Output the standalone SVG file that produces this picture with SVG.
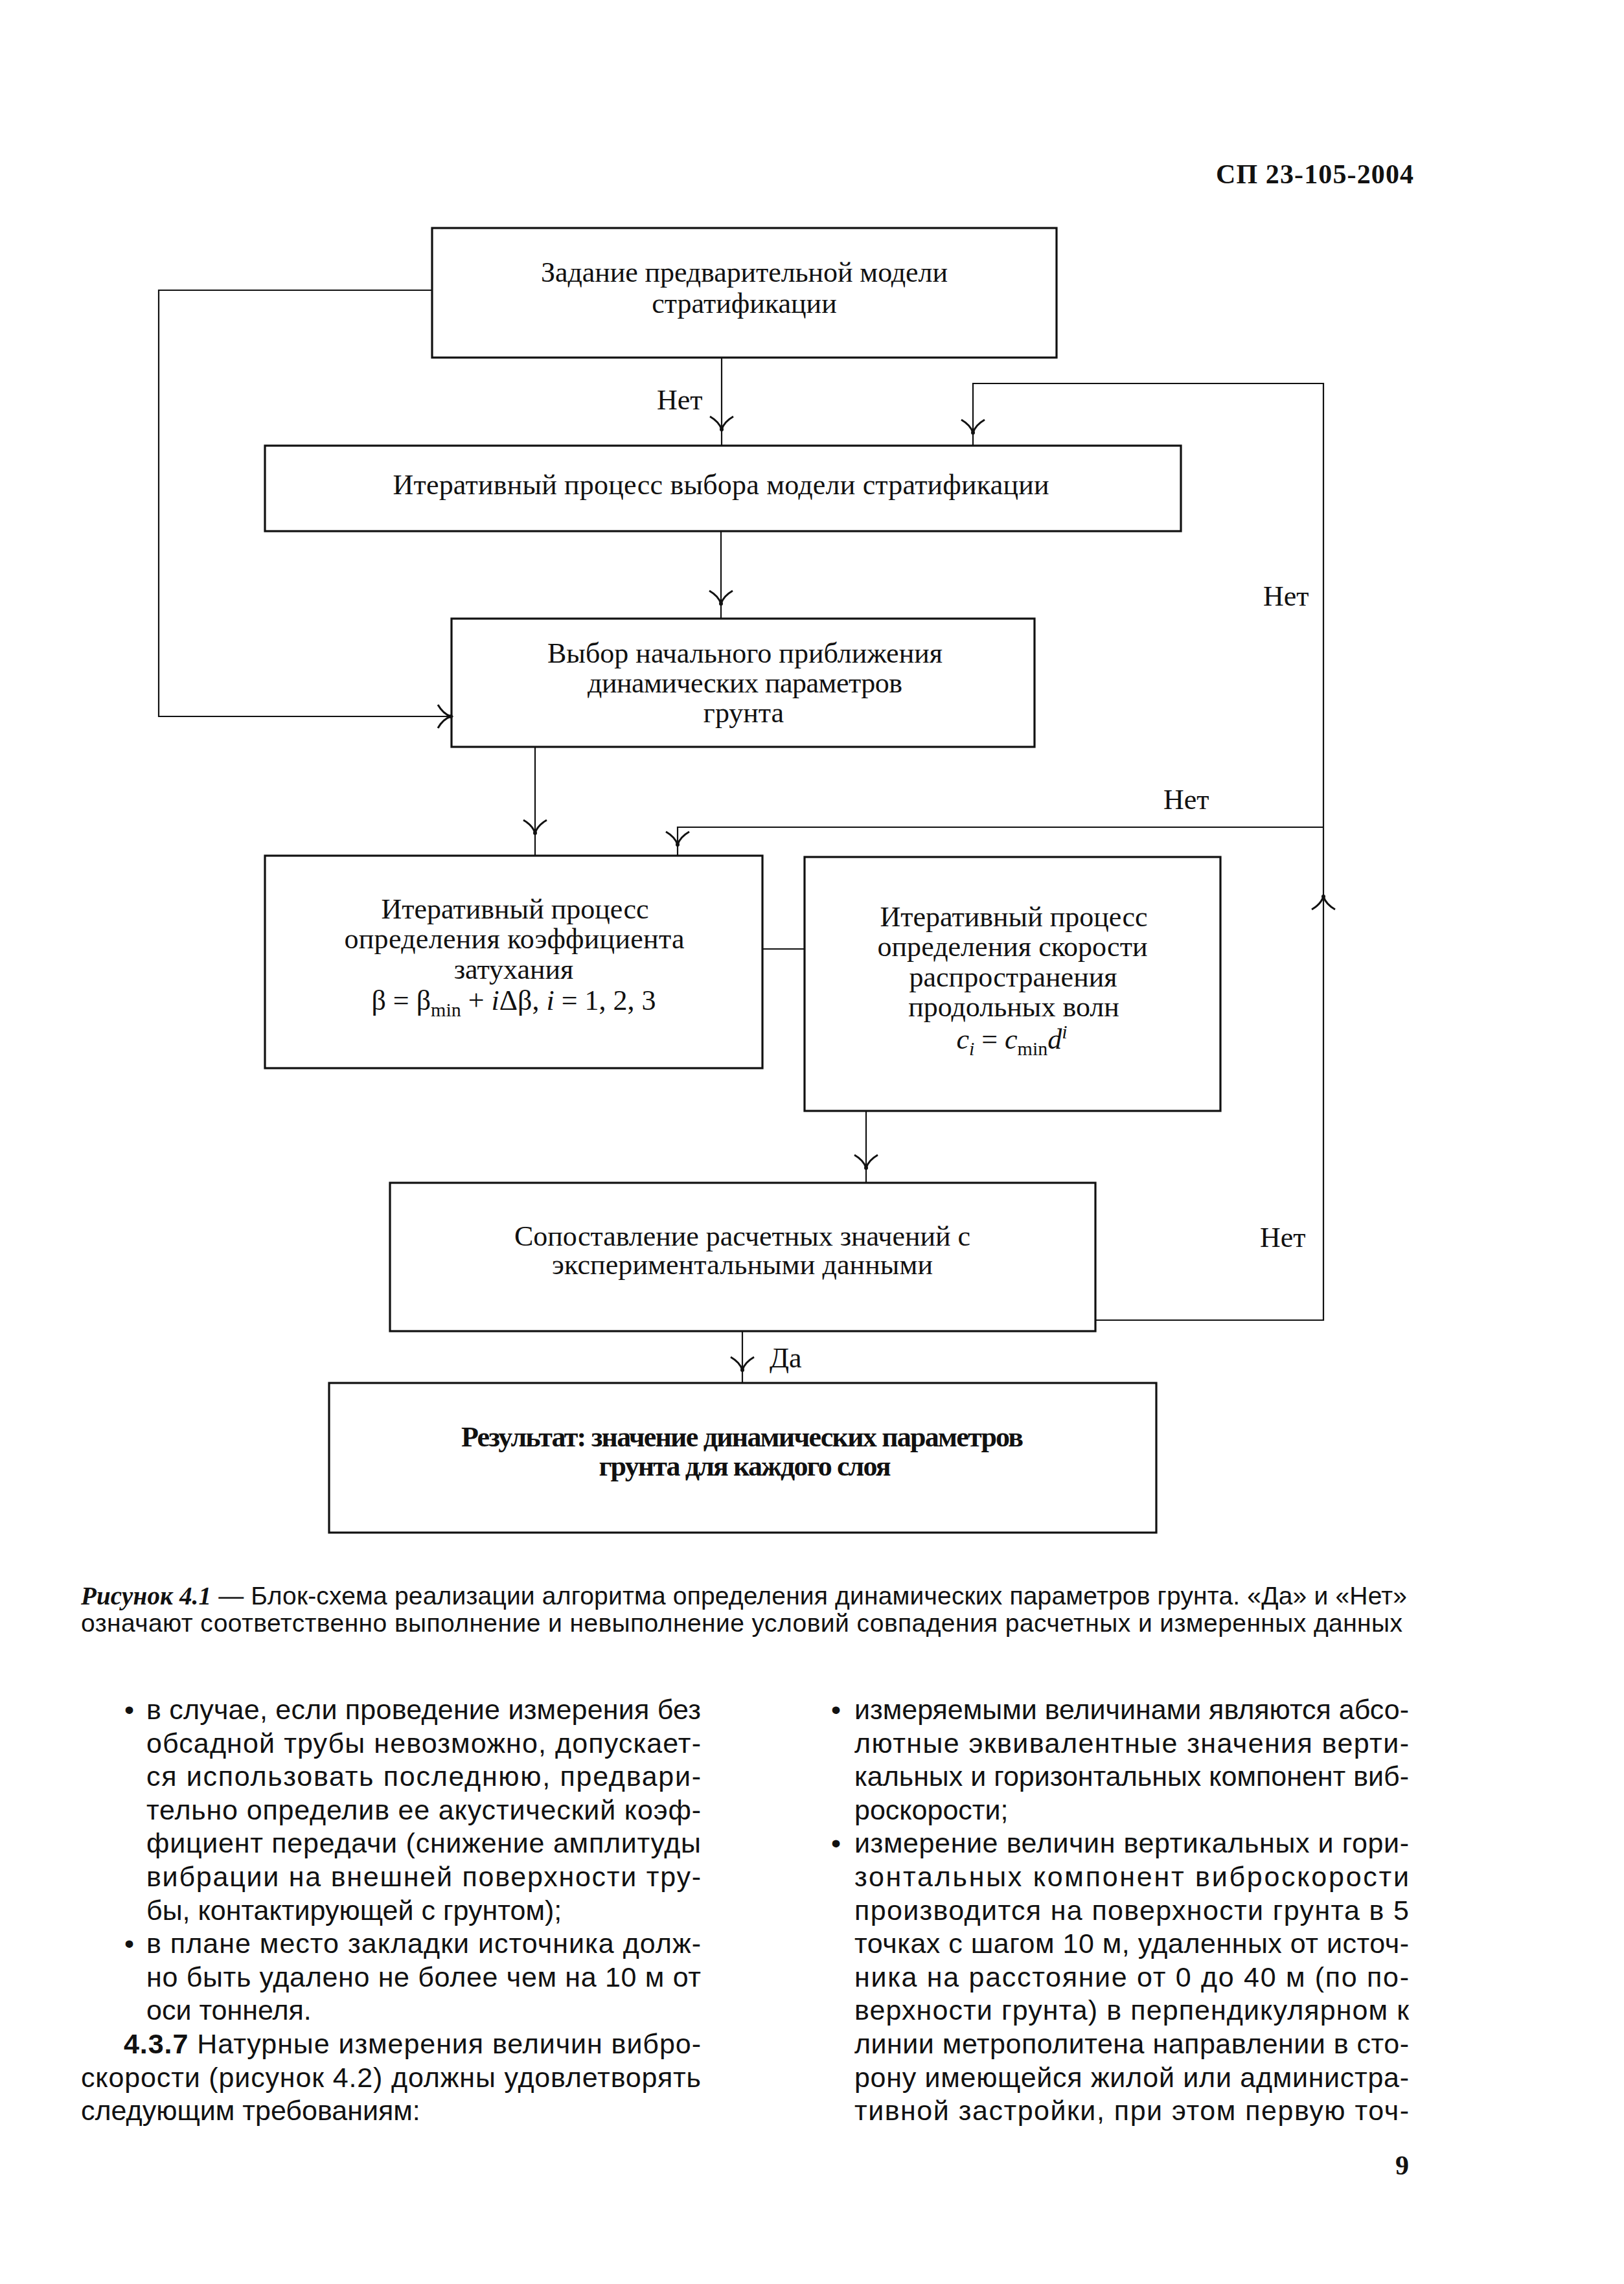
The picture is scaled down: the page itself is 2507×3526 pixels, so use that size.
<svg xmlns="http://www.w3.org/2000/svg" width="2507" height="3526" viewBox="0 0 2507 3526">
<style>
text{font-family:"Liberation Serif","Times New Roman",serif;fill:#111}
.bx{fill:none;stroke:#111;stroke-width:3.2}
.ln{fill:none;stroke:#111;stroke-width:2.2}
.ah{fill:none;stroke:#111;stroke-width:3}
.t{font-size:44px;text-anchor:middle}
.tb{font-size:44px;text-anchor:middle;font-weight:bold}
.lb{font-size:44px}
.body{font-family:"Liberation Sans",Arial,sans-serif;font-size:43px}
.cap{font-family:"Liberation Sans",Arial,sans-serif;font-size:39px}
.it{font-style:italic}
.sub{font-size:30px}
</style>
<defs>
<g id="ahd"><path class="ah" d="M-18,-20 Q-4,-12 0,0 Q4,-12 18,-20"/><circle r="3" fill="#111"/></g>
</defs>
<rect width="2507" height="3526" fill="#fff"/>

<text x="2182" y="283" font-size="42" font-weight="bold" text-anchor="end" textLength="305">СП 23-105-2004</text>

<g id="connectors">
<polyline class="ln" points="667,448 245,448 245,1106 697,1106"/>
<line class="ln" x1="1114" y1="552" x2="1114" y2="688"/>
<polyline class="ln" points="1502,688 1502,592 2043,592 2043,2038 1691,2038"/>
<line class="ln" x1="1113" y1="820" x2="1113" y2="955"/>
<line class="ln" x1="826" y1="1153" x2="826" y2="1321"/>
<polyline class="ln" points="2043,1277 1046,1277 1046,1321"/>
<line class="ln" x1="1177" y1="1465" x2="1242" y2="1465"/>
<line class="ln" x1="1337" y1="1715" x2="1337" y2="1826"/>
<line class="ln" x1="1146" y1="2055" x2="1146" y2="2135"/>
<use href="#ahd" transform="translate(1114,663)"/>
<use href="#ahd" transform="translate(1502,668)"/>
<use href="#ahd" transform="translate(1113,932)"/>
<use href="#ahd" transform="translate(826,1286)"/>
<use href="#ahd" transform="translate(1046,1304)"/>
<use href="#ahd" transform="translate(1337,1803)"/>
<use href="#ahd" transform="translate(1146,2115)"/>
<use href="#ahd" transform="translate(696,1106) rotate(-90)"/>
<use href="#ahd" transform="translate(2043,1384) rotate(180)"/>
<text class="lb" x="1014" y="632">Нет</text>
<text class="lb" x="1950" y="935">Нет</text>
<text class="lb" x="1796" y="1249">Нет</text>
<text class="lb" x="1945" y="1925">Нет</text>
<text class="lb" x="1188" y="2111">Да</text>
</g>

<g id="n1">
<rect class="bx" x="667" y="352" width="964" height="200"/>
<text class="t" x="1149" y="435" textLength="628">Задание предварительной модели</text>
<text class="t" x="1149" y="483">стратификации</text>
</g>
<g id="n2">
<rect class="bx" x="409" y="688" width="1414" height="132"/>
<text class="t" x="1113" y="763" textLength="1013">Итеративный процесс выбора модели стратификации</text>
</g>
<g id="n3">
<rect class="bx" x="697" y="955" width="900" height="198"/>
<text class="t" x="1150" y="1023" textLength="610">Выбор начального приближения</text>
<text class="t" x="1150" y="1069" textLength="486">динамических параметров</text>
<text class="t" x="1148" y="1115">грунта</text>
</g>
<g id="n4">
<rect class="bx" x="409" y="1321" width="768" height="328"/>
<text class="t" x="795" y="1418" textLength="413">Итеративный процесс</text>
<text class="t" x="794" y="1464" textLength="525">определения коэффициента</text>
<text class="t" x="793" y="1511">затухания</text>
<text class="t" x="793" y="1559">β = β<tspan class="sub" dy="10">min</tspan><tspan dy="-10"> + </tspan><tspan class="it">i</tspan>Δβ, <tspan class="it">i</tspan> = 1, 2, 3</text>
</g>
<g id="n5">
<rect class="bx" x="1242" y="1323" width="642" height="392"/>
<text class="t" x="1565" y="1430" textLength="413">Итеративный процесс</text>
<text class="t" x="1563" y="1476" textLength="417">определения скорости</text>
<text class="t" x="1564" y="1523">распространения</text>
<text class="t" x="1565" y="1569">продольных волн</text>
<text class="t" x="1562" y="1619"><tspan class="it">c</tspan><tspan class="sub it" dy="10">i</tspan><tspan dy="-10"> = </tspan><tspan class="it">c</tspan><tspan class="sub" dy="10">min</tspan><tspan class="it" dy="-10">d</tspan><tspan class="sub it" dy="-16">i</tspan></text>
</g>
<g id="n6">
<rect class="bx" x="602" y="1826" width="1089" height="229"/>
<text class="t" x="1146" y="1923" textLength="704">Сопоставление расчетных значений с</text>
<text class="t" x="1146" y="1967" textLength="588">экспериментальными данными</text>
</g>
<g id="n7">
<rect class="bx" x="508" y="2135" width="1277" height="231"/>
<text class="tb" x="1146" y="2233" textLength="868">Результат: значение динамических параметров</text>
<text class="tb" x="1150" y="2278" textLength="451">грунта для каждого слоя</text>
</g>

<g id="caption">
<text class="cap" x="125" y="2477" textLength="2047" lengthAdjust="spacing"><tspan font-family="Liberation Serif" font-weight="bold" font-style="italic">Рисунок 4.1</tspan> — Блок-схема реализации алгоритма определения динамических параметров грунта. «Да» и «Нет»</text>
<text class="cap" x="125" y="2519" textLength="2040" lengthAdjust="spacing">означают соответственно выполнение и невыполнение условий совпадения расчетных и измеренных данных</text>
</g>

<g id="body-left">
<text class="body" x="192" y="2654">•</text>
<text class="body" x="226" y="2654" textLength="856">в случае, если проведение измерения без</text>
<text class="body" x="226" y="2706" textLength="856">обсадной трубы невозможно, допускает-</text>
<text class="body" x="226" y="2757" textLength="856">ся использовать последнюю, предвари-</text>
<text class="body" x="226" y="2809" textLength="856">тельно определив ее акустический коэф-</text>
<text class="body" x="226" y="2860" textLength="856">фициент передачи (снижение амплитуды</text>
<text class="body" x="226" y="2912" textLength="856">вибрации на внешней поверхности тру-</text>
<text class="body" x="226" y="2964">бы, контактирующей с грунтом);</text>
<text class="body" x="192" y="3015">•</text>
<text class="body" x="226" y="3015" textLength="856">в плане место закладки источника долж-</text>
<text class="body" x="226" y="3067" textLength="856">но быть удалено не более чем на 10 м от</text>
<text class="body" x="226" y="3118">оси тоннеля.</text>
<text class="body" x="191" y="3170" textLength="891"><tspan font-weight="bold">4.3.7</tspan> Натурные измерения величин вибро-</text>
<text class="body" x="125" y="3222" textLength="957">скорости (рисунок 4.2) должны удовлетворять</text>
<text class="body" x="125" y="3273">следующим требованиям:</text>
</g>

<g id="body-right">
<text class="body" x="1283" y="2654">•</text>
<text class="body" x="1319" y="2654" textLength="856">измеряемыми величинами являются абсо-</text>
<text class="body" x="1319" y="2706" textLength="856">лютные эквивалентные значения верти-</text>
<text class="body" x="1319" y="2757" textLength="856">кальных и горизонтальных компонент виб-</text>
<text class="body" x="1319" y="2809">роскорости;</text>
<text class="body" x="1283" y="2860">•</text>
<text class="body" x="1319" y="2860" textLength="856">измерение величин вертикальных и гори-</text>
<text class="body" x="1319" y="2912" textLength="856">зонтальных компонент виброскорости</text>
<text class="body" x="1319" y="2964" textLength="856">производится на поверхности грунта в 5</text>
<text class="body" x="1319" y="3015" textLength="856">точках с шагом 10 м, удаленных от источ-</text>
<text class="body" x="1319" y="3067" textLength="856">ника на расстояние от 0 до 40 м (по по-</text>
<text class="body" x="1319" y="3118" textLength="856">верхности грунта) в перпендикулярном к</text>
<text class="body" x="1319" y="3170" textLength="856">линии метрополитена направлении в сто-</text>
<text class="body" x="1319" y="3222" textLength="856">рону имеющейся жилой или администра-</text>
<text class="body" x="1319" y="3273" textLength="856">тивной застройки, при этом первую точ-</text>
</g>

<text x="2175" y="3357" font-size="42" font-weight="bold" text-anchor="end">9</text>
</svg>
